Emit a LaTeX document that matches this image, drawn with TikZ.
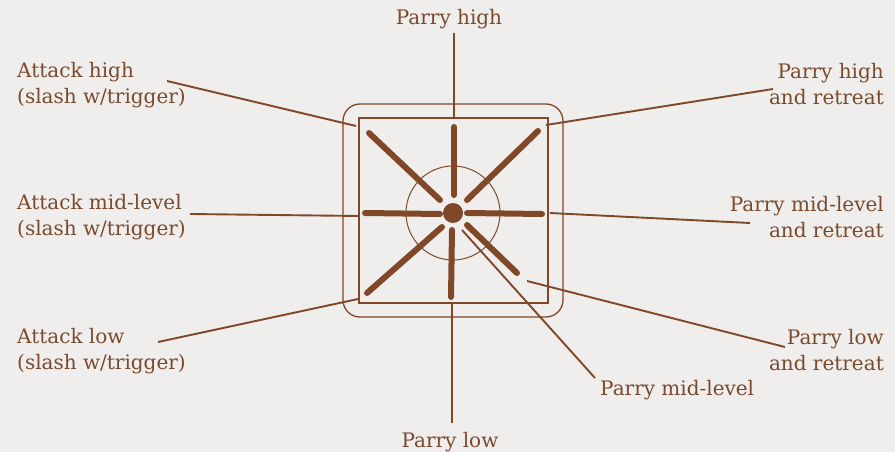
\documentclass[tikz,border=0pt]{standalone}
\usepackage{fontspec}
\setmainfont{DejaVu Serif}
\definecolor{ink}{RGB}{128,72,40}
\definecolor{txt}{RGB}{122,74,46}
\definecolor{paper}{RGB}{239,238,236}
\begin{document}
\begin{tikzpicture}[x=1pt,y=-1pt,
 lbl/.style={text=txt,font=\fontsize{20}{26}\selectfont,inner sep=0pt},
 conn/.style={draw=ink,line width=1.9pt},
 spoke/.style={draw=ink,line width=6pt,line cap=round},
 frame/.style={draw=ink,line width=1.3pt}]
\fill[paper] (0,0) rectangle (895,452);
\useasboundingbox (0,0) rectangle (895,452);

% frames
\draw[frame,rounded corners=17pt] (343,104) rectangle (563,317);
\draw[frame] (359,118) rectangle (548,303);
\draw[frame,line width=1pt] (453,213) circle[radius=47pt];
\fill[ink] (453,213) circle[radius=10pt];

% spokes
\draw[spoke] (454,127) -- (454,195);
\draw[spoke] (452,230) -- (451,297);
\draw[spoke] (365,213) -- (440,214);
\draw[spoke] (467,213) -- (542,214);
\draw[spoke] (369,133) -- (440,200);
\draw[spoke] (538,131) -- (467,200);
\draw[spoke] (442,227) -- (367,293);
\draw[spoke] (467,225) -- (517,273);

% labels (multi-line nodes: base = baseline of last line)
\node[lbl,anchor=base] (ph) at (449,25) {Parry high};
\node[lbl,anchor=base west,align=left] (ah) at (17,103) {Attack high\\(slash w/trigger)};
\node[lbl,anchor=base west,align=left] (am) at (17,235) {Attack mid-level\\(slash w/trigger)};
\node[lbl,anchor=base west,align=left] (al) at (17,369) {Attack low\\(slash w/trigger)};
\node[lbl,anchor=base east,align=right] (phr) at (884,105) {Parry high\\and retreat};
\node[lbl,anchor=base east,align=right] (pmr) at (884,237) {Parry mid-level\\and retreat};
\node[lbl,anchor=base east,align=right] (plr) at (884,370) {Parry low\\and retreat};
\node[lbl,anchor=base west] (pm) at (600,395) {Parry mid-level};
\node[lbl,anchor=base] (pl) at (450,447) {Parry low};

% connector end points
\coordinate (ph-a) at (454,33);   \coordinate (ph-b) at (454,118);
\coordinate (pl-a) at (452,423);  \coordinate (pl-b) at (452,304);
\coordinate (ah-a) at (167,81);   \coordinate (ah-b) at (356,126);
\coordinate (phr-a) at (773,89);  \coordinate (phr-b) at (546,125);
\coordinate (am-a) at (190,214);  \coordinate (am-b) at (359,216);
\coordinate (pmr-a) at (750,223); \coordinate (pmr-b) at (550,213);
\coordinate (al-a) at (158,342);  \coordinate (al-b) at (358,299);
\coordinate (plr-a) at (785,347); \coordinate (plr-b) at (527,281);
\coordinate (pm-a) at (595,378);  \coordinate (pm-b) at (462,230);

\draw[conn] (ph-a) -- (ph-b);
\draw[conn] (pl-a) -- (pl-b);
\draw[conn] (ah-a) -- (ah-b);
\draw[conn] (phr-a) -- (phr-b);
\draw[conn] (am-a) -- (am-b);
\draw[conn] (pmr-a) -- (pmr-b);
\draw[conn] (al-a) -- (al-b);
\draw[conn] (plr-a) -- (plr-b);
\draw[conn] (pm-a) -- (pm-b);
\end{tikzpicture}
\end{document}
